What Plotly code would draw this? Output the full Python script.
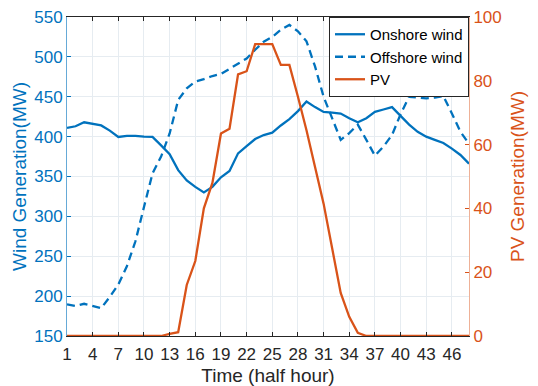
import plotly.graph_objects as go

hours = list(range(1, 49))
onshore = [411, 413, 418, 416, 414, 407.5, 399.6, 401, 401, 400, 399.6, 389,
           378, 358, 345, 337, 330, 337, 349, 357, 379, 388, 397, 402,
           405, 414, 422, 432, 444, 437, 431, 430, 429, 423, 418, 423,
           431, 434, 437, 426, 415, 406, 400, 396, 392, 385, 377, 366]
offshore = [189.6, 187.5, 190.4, 187.5, 185, 199, 214.6, 237.5, 268.8, 311.7, 354, 375,
            404, 446, 460.5, 469, 472, 476, 478.6, 485, 492, 498, 509, 519,
            525, 534, 540, 532, 519.5, 488, 450, 423, 396, 404.5, 415, 396,
            376, 387.6, 402, 428, 450, 449, 448, 449, 451, 429, 406, 391]
pv = [0] * 12 + [0.7, 1.2, 16, 23.5, 40, 48, 63.5, 65, 82, 83, 91.5, 91.5,
                 91.5, 85, 85, 75, 64.5, 53, 41.5, 27.5, 13.5, 6, 1] + [0] * 13
xticks = list(range(1, 48, 3))

BLUE = "#0072BD"
ORANGE = "#D95319"
FONT = "Liberation Sans, Arial, Helvetica, sans-serif"

fig = go.Figure()
fig.add_trace(go.Scatter(x=hours, y=onshore, name="Onshore wind", mode="lines",
                         line=dict(color=BLUE, width=2.3)))
fig.add_trace(go.Scatter(x=hours, y=offshore, name="Offshore wind", mode="lines",
                         line=dict(color=BLUE, width=2.3, dash="8px,5px")))
fig.add_trace(go.Scatter(x=hours, y=pv, name="PV", mode="lines", yaxis="y2",
                         line=dict(color=ORANGE, width=2.3)))

fig.update_layout(
    width=538, height=386,
    margin=dict(l=67, r=69, t=17, b=50),
    paper_bgcolor="white", plot_bgcolor="white",
    font=dict(family=FONT, size=17, color="#262626"),
    showlegend=True,
    legend=dict(x=1, y=1, xanchor="right", yanchor="top",
                bgcolor="white", bordercolor="#262626", borderwidth=1,
                font=dict(size=15, color="#000000"),
                tracegroupgap=0, itemwidth=30),
    xaxis=dict(range=[1, 48], tickmode="array", tickvals=xticks, automargin=False,
               ticks="inside", ticklen=4, tickcolor="#262626", ticklabelstandoff=3,
               showline=True, linecolor="#262626", linewidth=1, mirror="ticks",
               showgrid=True, gridcolor="#e6ecf1", gridwidth=1, zeroline=False,
               tickfont=dict(size=17, color="#262626"),
               title=dict(text="Time (half hour)", font=dict(size=19, color="#262626"),
                          standoff=6)),
    yaxis=dict(range=[150, 550], dtick=50, ticks="inside", ticklen=4, automargin=False,
               tickcolor=BLUE, showline=True, linecolor="rgba(0,114,189,0.6)",
               linewidth=1, showgrid=True, gridcolor="#e6ecf1", zeroline=False,
               tickfont=dict(size=17, color=BLUE),
               title=dict(text="Wind Generation(MW)", font=dict(size=19, color=BLUE),
                          standoff=2)),
    yaxis2=dict(range=[0, 100], dtick=20, overlaying="y", side="right", automargin=False,
                ticks="inside", ticklen=4, tickcolor=ORANGE, showline=True,
                linecolor="rgba(217,83,25,0.45)", linewidth=1, showgrid=False,
                zeroline=False, tickfont=dict(size=17, color=ORANGE),
                title=dict(text="PV Generation(MW)", font=dict(size=19, color=ORANGE),
                           standoff=9)),
)

fig.write_html("out.html")
